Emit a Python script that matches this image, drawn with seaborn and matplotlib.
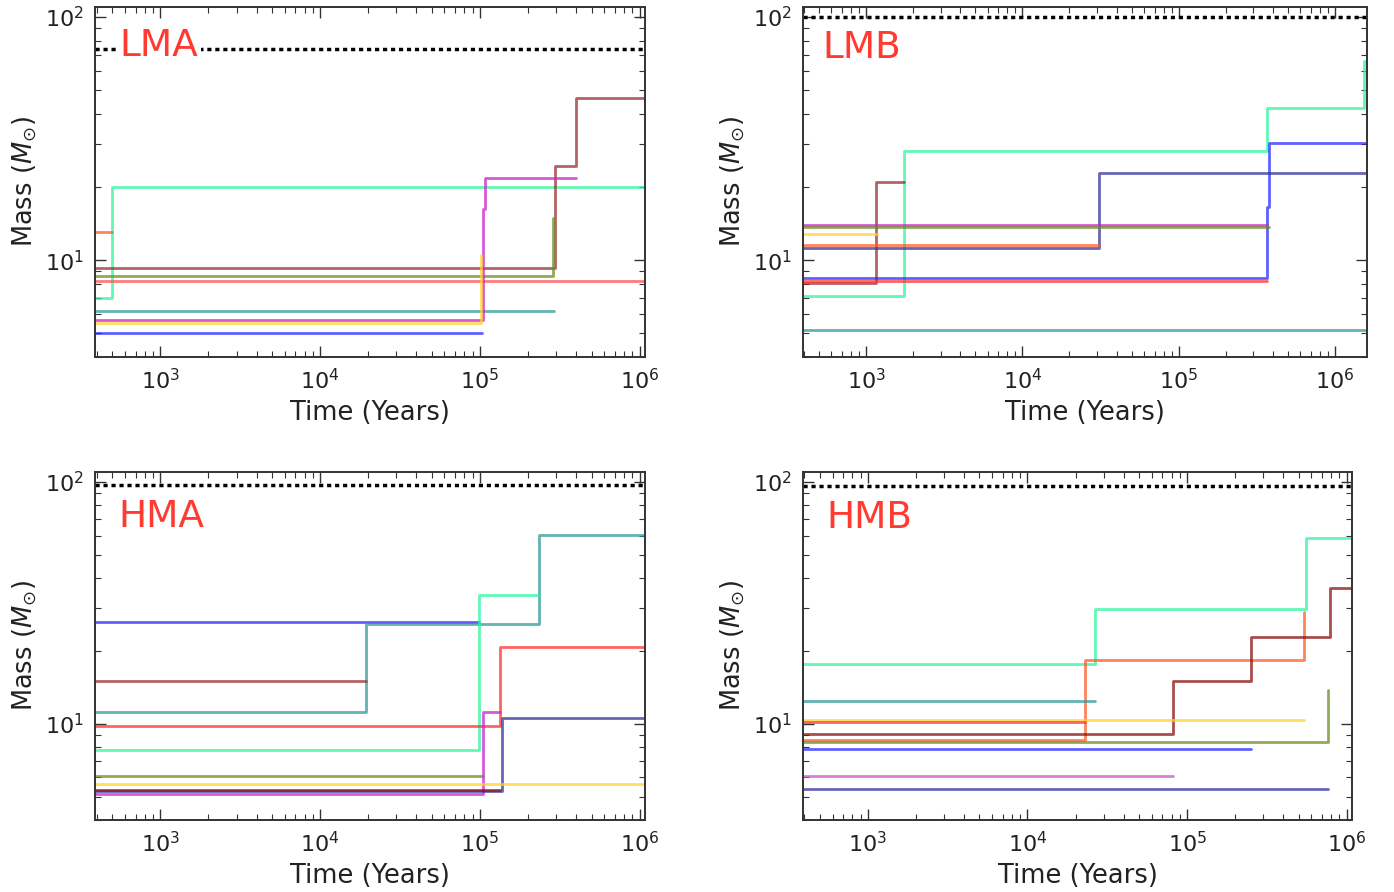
import matplotlib
matplotlib.use("Agg")
import matplotlib.pyplot as plt
import seaborn as sns
import pandas as pd

# colours used for the tracks
palette = {
    "blue": "#2b2bff",
    "navy": "#34349a",
    "teal": "#2e9a9a",
    "aqua": "#2cf59c",
    "olive": "#6b8e23",
    "gold": "#ffd42a",
    "coral": "#ff5a26",
    "red": "#ff3030",
    "brown": "#9a3030",
    "darkred": "#8b1010",
    "magenta": "#cc22cc",
    "orchid": "#cc55cc",
    "salmon": "#ff5050",
}

panels = ["LMA", "LMB", "HMA", "HMB"]
xlims = {"LMA": (390, 1.08e6), "LMB": (395, 1.6e6), "HMA": (390, 1.08e6), "HMB": (392, 1.08e6)}
ylims = (4, 110)
thresholds = {"LMA": 74, "LMB": 100, "HMA": 97, "HMB": 96}

# each track: step times (len = masses + 1) and the mass levels; None = right edge
lma_colors = ["aqua", "coral", "brown", "olive", "salmon", "teal", "magenta", "gold", "blue"]
lma_times = [[300, 495, None], [300, 500], [300, 2.94e5, 3.98e5, None], [300, 2.87e5, 2.87e5],
             [300, None], [300, 2.9e5], [300, 1.04e5, 1.08e5, 3.98e5], [300, 1.02e5, 1.02e5],
             [300, 1.03e5]]
lma_masses = [[7.0, 20.0], [13.1], [9.3, 24.3, 46.4], [8.6, 14.9], [8.25], [6.2],
              [5.68, 16.2, 21.8], [5.52, 10.55], [5.0]]

lmb_colors = ["aqua", "brown", "red", "blue", "navy", "coral", "gold", "magenta", "olive", "teal"]
lmb_times = [[300, 1.75e3, 3.68e5, 1.52e6, None], [300, 1.16e3, 1.75e3], [300, 3.68e5],
             [300, 3.68e5, 3.8e5, None], [300, 3.07e4, None], [300, 3.07e4], [300, 1.18e3],
             [300, 3.68e5], [300, 3.8e5], [300, None]]
lmb_masses = [[7.1, 28.2, 42.4, 65.8], [8.05, 20.9], [8.2], [8.42, 16.6, 30.4], [11.25, 22.8],
              [11.5], [12.85], [14.0], [13.7], [5.17]]

hma_colors = ["blue", "teal", "brown", "aqua", "red", "magenta", "navy", "darkred", "olive", "gold"]
hma_times = [[300, 9.85e4], [300, 1.93e4, 2.34e5, None], [300, 1.93e4], [300, 9.85e4, 2.34e5],
             [300, 1.34e5, None], [300, 1.04e5, 1.34e5], [300, 1.37e5, None], [300, 1.34e5],
             [300, 1.04e5], [300, None]]
hma_masses = [[26.4], [11.2, 25.8, 60.3], [15.0], [7.8, 34.0], [9.8, 20.8], [5.12, 11.2],
              [5.25, 10.6], [5.34], [6.1], [5.64]]

hmb_colors = ["aqua", "coral", "darkred", "teal", "gold", "red", "olive", "blue", "orchid", "navy"]
hmb_times = [[300, 2.63e4, 5.53e5, None], [300, 2.28e4, 5.4e5, 5.4e5],
             [300, 8.18e4, 2.51e5, 7.9e5, None], [300, 2.63e4], [300, 5.4e5], [300, 2.28e4],
             [300, 7.65e5, 7.65e5], [300, 2.51e5], [300, 8.2e4], [300, 7.65e5]]
hmb_masses = [[17.7, 29.9, 58.8], [8.56, 18.4, 28.9], [9.06, 15.1, 22.9, 36.5], [12.45],
              [10.4], [10.2], [8.43, 13.8], [7.86], [6.06], [5.37]]

tracks = {
    "LMA": (lma_colors, lma_times, lma_masses),
    "LMB": (lmb_colors, lmb_times, lmb_masses),
    "HMA": (hma_colors, hma_times, hma_masses),
    "HMB": (hmb_colors, hmb_times, hmb_masses),
}

rows = []
track_pal = {}
for p in panels:
    colors, times, masses = tracks[p]
    for i in range(len(colors)):
        name = p + "-" + str(i)
        track_pal[name] = palette[colors[i]]
        t = [xlims[p][1] if v is None else v for v in times[i]]
        m = masses[i] + [masses[i][-1]]
        for tt, mm in zip(t, m):
            rows.append([p, name, tt, mm])
df = pd.DataFrame(rows, columns=["panel", "track", "time", "mass"])

sns.set_style("ticks")
plt.rcParams["font.family"] = ["DejaVu Sans"]
plt.rcParams["mathtext.fontset"] = "dejavusans"

fig = plt.figure(figsize=(13.94, 8.92), dpi=100)
W, H = 1394, 892
boxes = {"LMA": (95, 7, 645, 357), "LMB": (803, 7, 1367, 357),
         "HMA": (95, 472, 645, 820), "HMB": (803, 472, 1352, 820)}
text_pos = {"LMA": (0.045, 0.889), "LMB": (0.035, 0.883), "HMA": (0.042, 0.87), "HMB": (0.042, 0.868)}

for p in panels:
    l, t, r, b = boxes[p]
    ax = fig.add_axes([l / W, 1 - b / H, (r - l) / W, (b - t) / H])
    ax.set_xscale("log")
    ax.set_yscale("log")
    sub = df[df["panel"] == p]
    sns.lineplot(data=sub, x="time", y="mass", hue="track", palette=track_pal,
                 estimator=None, sort=False, drawstyle="steps-post", legend=False,
                 lw=2, alpha=0.75, ax=ax)
    ax.axhline(thresholds[p], color="black", lw=2.5, ls=(0, (1.2, 1.1)), zorder=1)
    ax.set_xlim(*xlims[p])
    ax.set_ylim(*ylims)
    ax.text(text_pos[p][0], text_pos[p][1], p, transform=ax.transAxes, color="#ff3a30",
            fontsize=27, va="center", ha="left", zorder=5,
            bbox=dict(facecolor="white", edgecolor="none", pad=2))
    ax.set_xlabel("Time (Years)", fontsize=18.5, color="#222222", labelpad=5)
    ax.set_ylabel(r"Mass ($M_{\odot}$)", fontsize=18.5, color="#222222", labelpad=4)
    ax.tick_params(which="both", direction="in", top=True, right=True, colors="#333333",
                   labelsize=16, labelcolor="#222222")
    ax.tick_params(which="major", length=8, width=1, pad=8)
    ax.tick_params(which="minor", length=4, width=0.8)
    for s in ax.spines.values():
        s.set_color("#333333")
        s.set_linewidth(1.4)

fig.savefig("out.png", dpi=100)
